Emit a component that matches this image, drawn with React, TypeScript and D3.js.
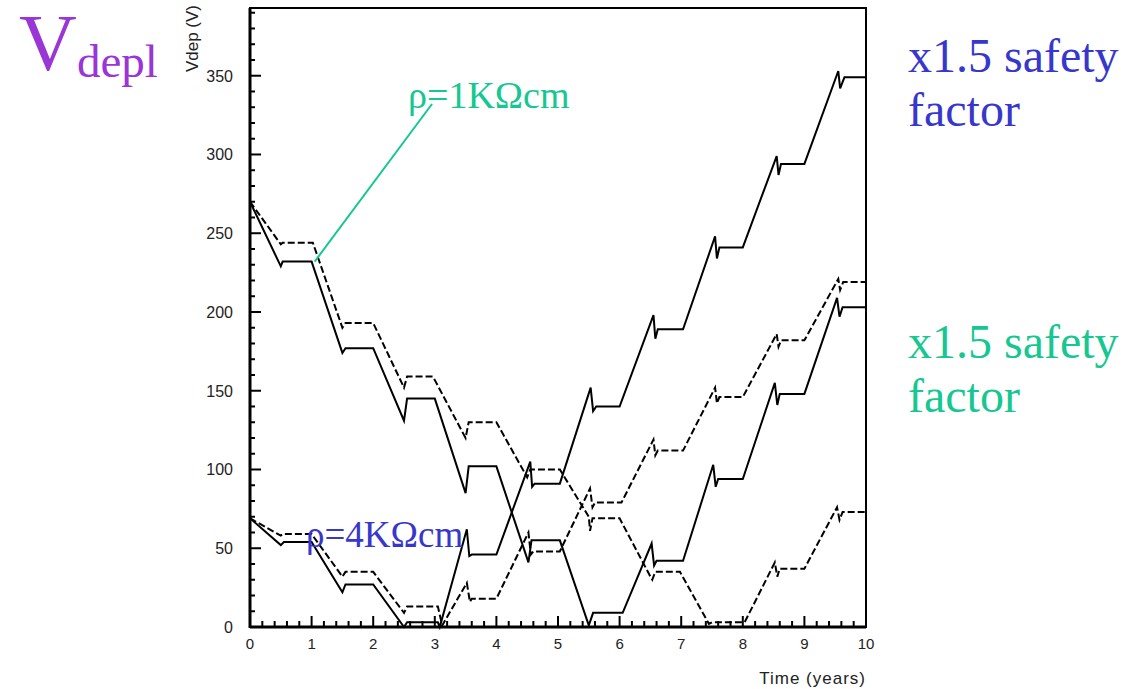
import React from 'react';
import * as d3 from 'd3';

// Depletion voltage vs time, [year, volts]
// rho = 1 kOhm cm, nominal fluence (dashed)
const rho1kNominal: [number, number][] = [
  [0, 270], [0.5, 243], [0.53, 244], [1.02, 244], [1.5, 190], [1.55, 193], [2.0, 193],
  [2.5, 152], [2.55, 159], [2.97, 159], [3.5, 120], [3.55, 130], [4.0, 130],
  [4.5, 95], [4.55, 100], [5.03, 100], [5.5, 70], [5.52, 61], [5.56, 69], [6.0, 69],
  [6.5, 32], [6.53, 30], [6.58, 35], [6.98, 35], [7.45, 2], [7.5, 3], [8.03, 3],
  [8.52, 41], [8.56, 32], [8.6, 37], [9.0, 37], [9.53, 76], [9.57, 68], [9.62, 73], [10, 73],
];
// rho = 1 kOhm cm, x1.5 safety factor (solid)
const rho1kSafety: [number, number][] = [
  [0, 270], [0.5, 229], [0.53, 232], [1.0, 232], [1.5, 174], [1.55, 177], [2.0, 177],
  [2.5, 131], [2.55, 145], [3.0, 145], [3.5, 85], [3.55, 102], [4.0, 102],
  [4.52, 41], [4.57, 55], [5.03, 55], [5.5, 1], [5.57, 9], [6.05, 9],
  [6.52, 53], [6.56, 39], [6.6, 42], [7.03, 42], [7.52, 103], [7.56, 89], [7.6, 94], [8.0, 94],
  [8.52, 155], [8.56, 141], [8.6, 148], [9.0, 148], [9.53, 209], [9.57, 197], [9.62, 203], [10, 203],
];
// rho = 4 kOhm cm, nominal fluence (dashed)
const rho4kNominal: [number, number][] = [
  [0, 69], [0.5, 58], [0.53, 59], [1.0, 59], [1.5, 32], [1.55, 35], [2.0, 35],
  [2.5, 9], [2.55, 13], [3.05, 13], [3.12, 1], [3.52, 28], [3.57, 16], [3.6, 18], [4.0, 18],
  [4.52, 60], [4.56, 46], [4.6, 48], [5.03, 48], [5.52, 88], [5.56, 76], [5.6, 79], [6.03, 79],
  [6.55, 119], [6.58, 109], [6.62, 112], [7.03, 112], [7.55, 152], [7.58, 142], [7.62, 146], [8.0, 146],
  [8.55, 186], [8.58, 178], [8.62, 182], [9.0, 182], [9.55, 221], [9.58, 214], [9.63, 219], [10, 219],
];
// rho = 4 kOhm cm, x1.5 safety factor (solid)
const rho4kSafety: [number, number][] = [
  [0, 69], [0.5, 52], [0.55, 54], [1.0, 54], [1.5, 22], [1.55, 27], [2.0, 27],
  [2.5, 0], [2.55, 3], [3.05, 3], [3.08, 0], [3.52, 62], [3.56, 45], [3.6, 46], [4.0, 46],
  [4.55, 105], [4.58, 89], [4.62, 91], [5.03, 91], [5.53, 152], [5.57, 137], [5.62, 140], [6.0, 140],
  [6.55, 198], [6.58, 183], [6.62, 189], [7.03, 189], [7.55, 248], [7.58, 234], [7.62, 241], [8.0, 241],
  [8.55, 299], [8.58, 287], [8.62, 294], [9.0, 294], [9.55, 353], [9.58, 342], [9.65, 349], [10, 349],
];

const xMajor = [0, 1, 2, 3, 4, 5, 6, 7, 8, 9, 10];
const yMajor = [0, 50, 100, 150, 200, 250, 300, 350];

const serif = '"Liberation Serif", "Times New Roman", serif';
const sans = '"Liberation Sans", Arial, sans-serif';
const purple = '#9a35d6';
const blue = '#3737cc';
const green = '#16c792';

const App = () => {
  const left = 250, right = 866, top = 8, bottom = 627;
  const x = d3.scaleLinear().domain([0, 10]).range([left, right]);
  const y = d3.scaleLinear().domain([0, 393]).range([bottom, top]);

  const line = d3.line<[number, number]>()
    .x(d => x(d[0]))
    .y(d => y(d[1]));

  const xMinor = d3.range(0, 10.001, 0.2).filter(v => Math.abs(v - Math.round(v)) > 0.01);
  const yMinor = d3.range(0, 391, 10).filter(v => v % 50 !== 0);

  return (
    <svg width={1124} height={689} style={{ position: 'absolute', left: 0, top: 0, background: '#fff' }}>
      {/* frame */}
      <rect x={left} y={top} width={right - left} height={bottom - top} fill="none" stroke="#000" strokeWidth={2} />
      <line x1={left} x2={left} y1={top} y2={bottom + 1} stroke="#000" strokeWidth={3} />
      <line x1={left} x2={right} y1={bottom} y2={bottom} stroke="#000" strokeWidth={3} />

      {/* y ticks */}
      {yMajor.map(v => (
        <g key={'ym' + v}>
          <line x1={left} x2={left + 11} y1={y(v)} y2={y(v)} stroke="#000" strokeWidth={2} />
          <text x={233} y={y(v) + 6} textAnchor="end" fontFamily={sans} fontSize={16} fill="#222">{v}</text>
        </g>
      ))}
      {yMinor.map(v => (
        <line key={'yn' + v} x1={left} x2={left + 5} y1={y(v)} y2={y(v)} stroke="#000" strokeWidth={2} />
      ))}

      {/* x ticks */}
      {xMajor.map(v => (
        <g key={'xm' + v}>
          <line x1={x(v)} x2={x(v)} y1={bottom} y2={bottom - 11} stroke="#000" strokeWidth={2} />
          <text x={x(v)} y={649} textAnchor="middle" fontFamily={sans} fontSize={15} fill="#222">{v}</text>
        </g>
      ))}
      {xMinor.map(v => (
        <line key={'xn' + v} x1={x(v)} x2={x(v)} y1={bottom} y2={bottom - 6} stroke="#000" strokeWidth={2} />
      ))}

      {/* axis titles */}
      <text x={866} y={684} textAnchor="end" fontFamily={sans} fontSize={17} letterSpacing={1} fill="#222">Time (years)</text>
      <text transform="translate(198,5) rotate(-90)" textAnchor="end" fontFamily={sans} fontSize={17} fill="#222">Vdep (V)</text>

      {/* curves */}
      <path d={line(rho1kNominal) ?? ''} fill="none" stroke="#000" strokeWidth={2} strokeDasharray="7 3" />
      <path d={line(rho4kNominal) ?? ''} fill="none" stroke="#000" strokeWidth={2} strokeDasharray="7 3" />
      <path d={line(rho1kSafety) ?? ''} fill="none" stroke="#000" strokeWidth={2} />
      <path d={line(rho4kSafety) ?? ''} fill="none" stroke="#000" strokeWidth={2} />

      {/* annotations */}
      <text x={19} y={70} fontFamily={serif} fontSize={80} fill={purple}>V</text>
      <text x={77} y={77} fontFamily={serif} fontSize={47} fill={purple}>depl</text>

      <line x1={432} y1={104} x2={x(1.05)} y2={y(232)} stroke={green} strokeWidth={2} />
      <text x={408} y={108} fontFamily={serif} fontSize={38} fill={green}>ρ=1KΩcm</text>
      <text x={306} y={547} fontFamily={serif} fontSize={37} fill={blue}>ρ=4KΩcm</text>

      <text x={908} y={72} fontFamily={serif} fontSize={48} fill={blue}>x1.5 safety</text>
      <text x={908} y={126} fontFamily={serif} fontSize={48} fill={blue}>factor</text>
      <text x={908} y={358} fontFamily={serif} fontSize={48} fill={green}>x1.5 safety</text>
      <text x={908} y={412} fontFamily={serif} fontSize={48} fill={green}>factor</text>
    </svg>
  );
};

export default App;
